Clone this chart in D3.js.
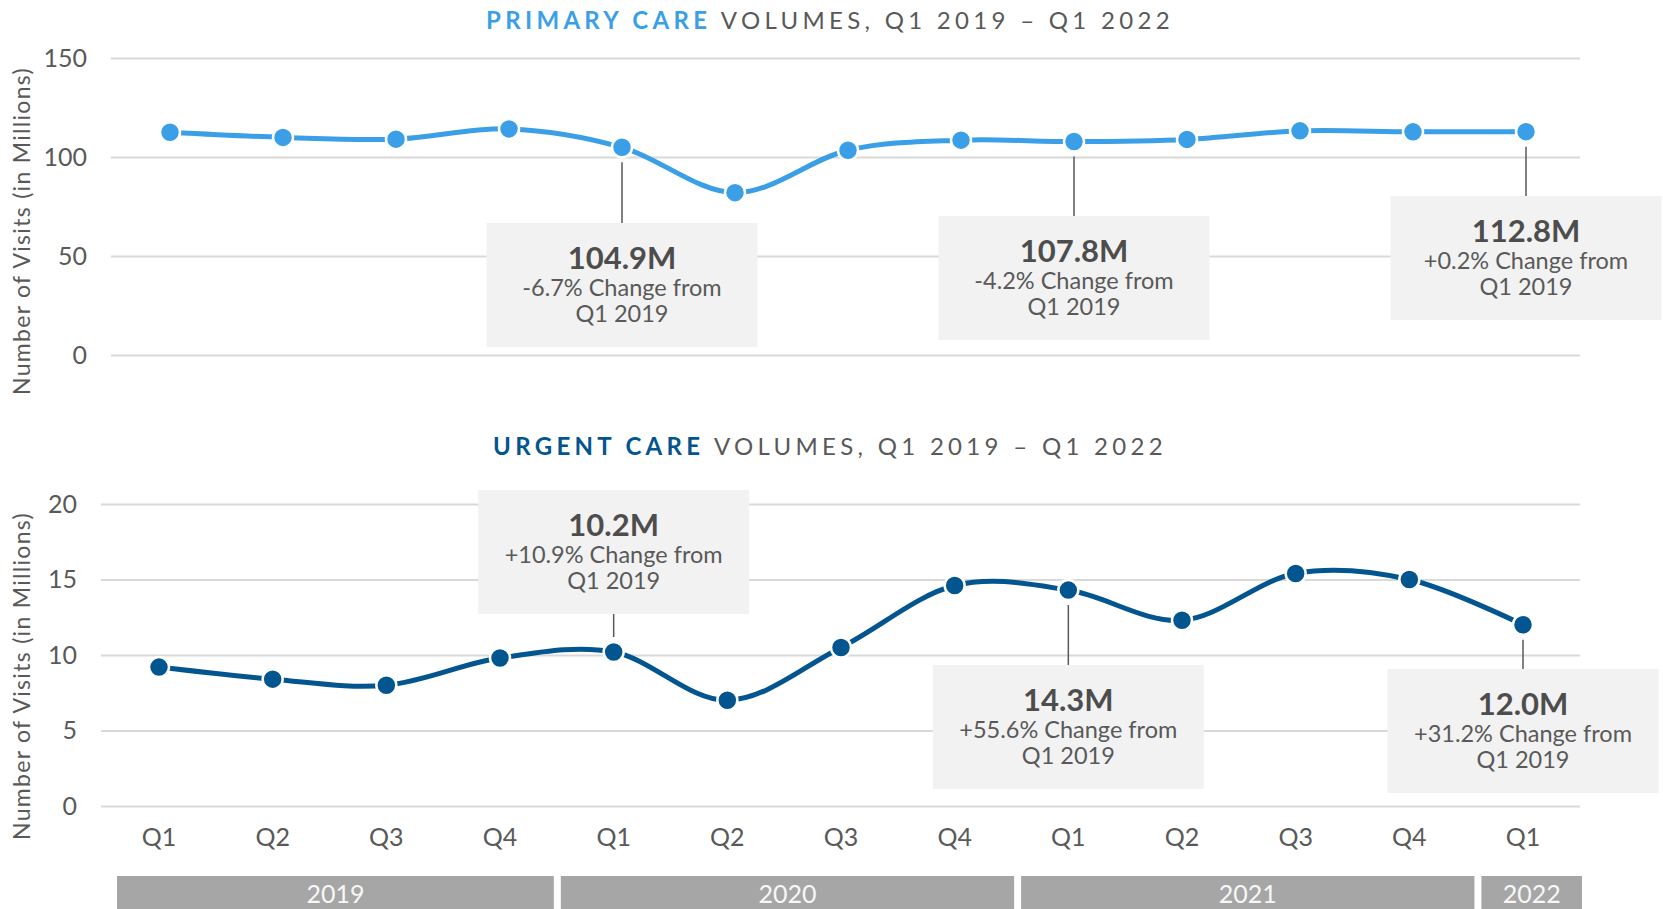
<!DOCTYPE html>
<html>
<head>
<meta charset="utf-8">
<script src="https://cdn.jsdelivr.net/npm/d3@7"></script>
<style>
  body { margin: 0; background: #fff; }
  svg { display: block; font-family: Lato, "Open Sans", sans-serif; }
</style>
</head>
<body>
<div id="chart"></div>
<script>
// quarter labels along the bottom
var quarters = ["Q1", "Q2", "Q3", "Q4", "Q1", "Q2", "Q3", "Q4", "Q1", "Q2", "Q3", "Q4", "Q1"];

// visits in millions, Q1 2019 - Q1 2022
var primaryVisits = [112.5, 109.9, 109.0, 114.2, 104.9, 82.0, 103.4, 108.5, 107.8, 108.9, 113.2, 112.7, 112.8];
var urgentVisits = [9.2, 8.4, 8.0, 9.8, 10.2, 7.0, 10.5, 14.6, 14.3, 12.3, 15.4, 15.0, 12.0];

var primaryTicks = [0, 50, 100, 150];
var urgentTicks = [0, 5, 10, 15, 20];

// years under the quarters (first and last quarter index)
var years = ["2019", "2020", "2021", "2022"];
var yearStart = [0, 4, 8, 12];
var yearEnd = [3, 7, 11, 12];

// callouts: which quarter, headline, change
var primaryNotes = [
  { i: 4, value: "104.9M", change: "-6.7%" },
  { i: 8, value: "107.8M", change: "-4.2%" },
  { i: 12, value: "112.8M", change: "+0.2%" }
];
var urgentNotes = [
  { i: 4, value: "10.2M", change: "+10.9%" },
  { i: 8, value: "14.3M", change: "+55.6%" },
  { i: 12, value: "12.0M", change: "+31.2%" }
];

//svg size
var svgWidth = 1663;
var svgHeight = 909;

var svg = d3.select("#chart")
  .append("svg")
  .attr("width", svgWidth)
  .attr("height", svgHeight);

var textColor = "#595959";
var gridRight = 1580;

//Draws one panel, layout passed in
function drawPanel(opts) {
  var g = svg.append("g");

  var x = d3.scalePoint()
    .domain(d3.range(opts.values.length))
    .range(opts.xRange);

  var y = d3.scaleLinear()
    .domain([0, opts.ticks[opts.ticks.length - 1]])
    .range(opts.yRange);

  // title with the coloured lead words
  var title = g.append("text")
    .attr("x", 830)
    .attr("y", opts.titleY)
    .attr("dy", "0.35em")
    .attr("text-anchor", "middle")
    .style("font-size", "24px")
    .style("letter-spacing", "4.3px");
  title.append("tspan")
    .attr("fill", opts.color)
    .style("font-weight", 700)
    .text(opts.lead);
  title.append("tspan")
    .attr("fill", textColor)
    .text(" VOLUMES, Q1 2019 \u2013 Q1 2022");

  // gridlines + tick labels
  var yAxis = g.append("g")
    .attr("transform", "translate(" + opts.gridLeft + ",0)")
    .call(d3.axisLeft(y)
      .tickValues(opts.ticks)
      .tickSize(-(gridRight - opts.gridLeft))
      .tickPadding(24));
  yAxis.select(".domain").remove();
  yAxis.selectAll("line")
    .attr("stroke", "#d9d9d9")
    .attr("stroke-width", 2);
  yAxis.selectAll("text")
    .attr("fill", textColor)
    .style("font-size", "25px")
    .style("font-family", "Lato, sans-serif");

  // axis title
  g.append("text")
    .attr("transform", "translate(22," + opts.titleMid + ") rotate(-90)")
    .attr("text-anchor", "middle")
    .attr("dy", "0.35em")
    .attr("fill", textColor)
    .style("font-size", "23px")
    .style("letter-spacing", "1.3px")
    .text("Number of Visits (in Millions)");

  // smoothed line
  var line = d3.line()
    .x(function(d, i) { return x(i); })
    .y(function(d) { return y(d); })
    .curve(d3.curveCardinal.tension(0));

  g.append("path")
    .datum(opts.values)
    .attr("d", line)
    .attr("fill", "none")
    .attr("stroke", opts.color)
    .attr("stroke-width", 5);

  g.selectAll("circle")
    .data(opts.values)
    .enter()
    .append("circle")
    .attr("cx", function(d, i) { return x(i); })
    .attr("cy", function(d) { return y(d); })
    .attr("r", 10)
    .attr("fill", opts.color)
    .attr("stroke", "#fff")
    .attr("stroke-width", 2.5);

  // callout boxes
  var boxW = 271, boxH = 124;
  opts.notes.forEach(function(n, k) {
    var cx = x(n.i);
    var cy = y(opts.values[n.i]);
    var top = opts.boxTop[k];
    var below = top > cy;

    g.append("line")
      .attr("x1", cx).attr("x2", cx)
      .attr("y1", below ? cy + 15 : top + boxH)
      .attr("y2", below ? top : cy - 15)
      .attr("stroke", textColor)
      .attr("stroke-width", 1.5);

    g.append("rect")
      .attr("x", cx - boxW / 2)
      .attr("y", top)
      .attr("width", boxW)
      .attr("height", boxH)
      .attr("fill", "#f2f2f2");

    g.append("text")
      .attr("x", cx).attr("y", top + 35).attr("dy", "0.35em")
      .attr("text-anchor", "middle")
      .attr("fill", "#4d4d4d")
      .style("font-size", "31px")
      .style("font-weight", 700)
      .text(n.value);

    g.append("text")
      .attr("x", cx).attr("y", top + 65).attr("dy", "0.35em")
      .attr("text-anchor", "middle")
      .attr("fill", textColor)
      .style("font-size", "23.5px")
      .text(n.change + " Change from");

    g.append("text")
      .attr("x", cx).attr("y", top + 91).attr("dy", "0.35em")
      .attr("text-anchor", "middle")
      .attr("fill", textColor)
      .style("font-size", "23.5px")
      .text("Q1 2019");
  });

  return x;
}

drawPanel({
  values: primaryVisits,
  ticks: primaryTicks,
  notes: primaryNotes,
  boxTop: [223, 216, 196],
  color: "#3b9fe8",
  lead: "PRIMARY CARE",
  titleY: 21,
  titleMid: 231,
  gridLeft: 111,
  xRange: [170, 1526],
  yRange: [355, 58]
});

var xBottom = drawPanel({
  values: urgentVisits,
  ticks: urgentTicks,
  notes: urgentNotes,
  boxTop: [490, 665, 669],
  color: "#03558f",
  lead: "URGENT CARE",
  titleY: 447,
  titleMid: 676,
  gridLeft: 101,
  xRange: [159, 1523],
  yRange: [806, 504]
});

// quarter labels
svg.append("g")
  .selectAll("text")
  .data(quarters)
  .enter()
  .append("text")
  .attr("x", function(d, i) { return xBottom(i); })
  .attr("y", 837)
  .attr("dy", "0.35em")
  .attr("text-anchor", "middle")
  .attr("fill", textColor)
  .style("font-size", "25px")
  .text(function(d) { return d; });

// year bands, a slightly wider quarter grid than the points
var edge = d3.scaleLinear().domain([0, 13]).range([97, 1593]);
var bandLeft = 117, bandRight = 1582;

var yearG = svg.append("g")
  .selectAll("g")
  .data(years)
  .enter()
  .append("g");

yearG.append("rect")
  .attr("x", function(d, k) { return Math.max(bandLeft, edge(yearStart[k]) + 3.5); })
  .attr("y", 876)
  .attr("width", function(d, k) {
    var l = Math.max(bandLeft, edge(yearStart[k]) + 3.5);
    var r = Math.min(bandRight, edge(yearEnd[k] + 1) - 3.5);
    return r - l;
  })
  .attr("height", 40)
  .attr("fill", "#a6a6a6");

yearG.append("text")
  .attr("x", function(d, k) {
    var l = Math.max(bandLeft, edge(yearStart[k]) + 3.5);
    var r = Math.min(bandRight, edge(yearEnd[k] + 1) - 3.5);
    return (l + r) / 2;
  })
  .attr("y", 894)
  .attr("dy", "0.35em")
  .attr("text-anchor", "middle")
  .attr("fill", "#f7f7f7")
  .style("font-size", "25px")
  .text(function(d) { return d; });
</script>
</body>
</html>
